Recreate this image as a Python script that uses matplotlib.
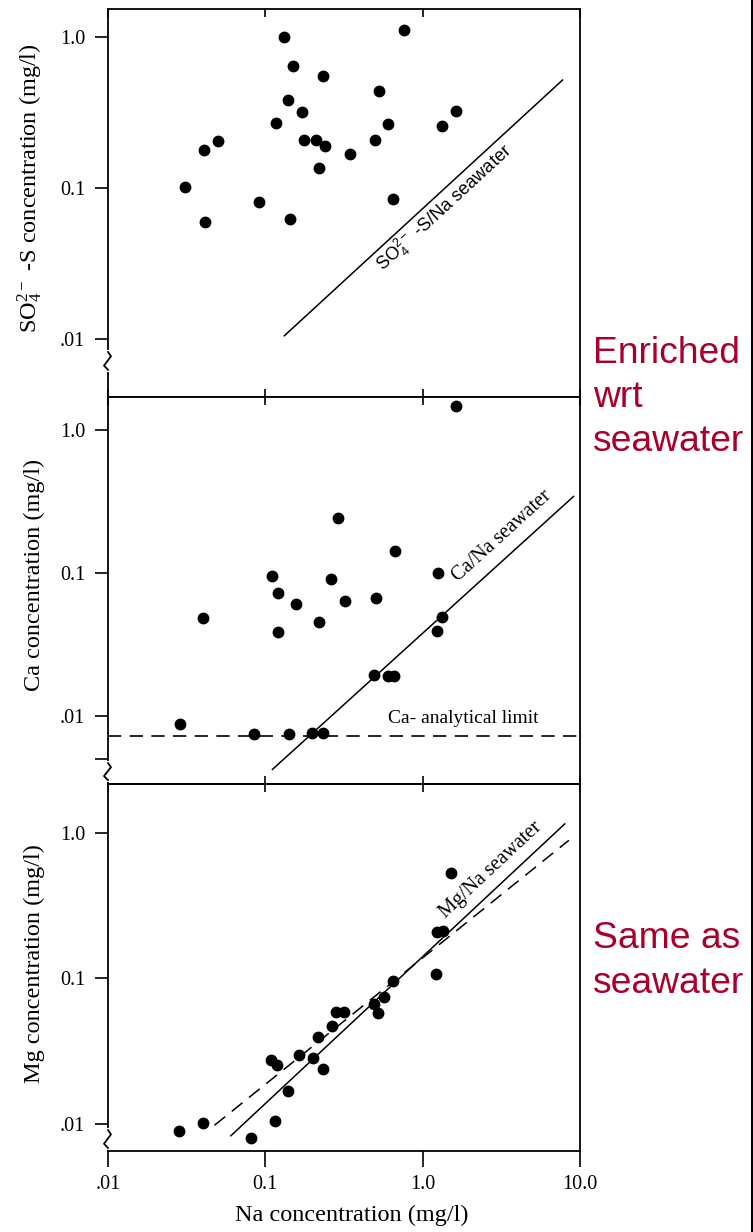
import numpy as np
import matplotlib.pyplot as plt
from matplotlib.lines import Line2D
from matplotlib.ticker import FixedLocator, FixedFormatter, NullLocator

plt.rcParams['font.family'] = ['Liberation Serif', 'DejaVu Serif']

# --- data (mg/l) ---
na_so4 = [0.0309, 0.0408, 0.0498, 0.0413, 0.0916, 0.132, 0.150, 0.139, 0.117, 0.172, 0.177, 0.209,
          0.241, 0.219, 0.143, 0.233, 0.344, 0.497, 0.764, 0.530, 0.598, 1.62, 1.32, 0.644]
so4 = [0.102, 0.179, 0.206, 0.0598, 0.0811, 1.0, 0.645, 0.384, 0.268, 0.317, 0.207, 0.207,
       0.189, 0.135, 0.0623, 0.549, 0.167, 0.208, 1.11, 0.441, 0.267, 0.324, 0.257, 0.085]

na_ca = [0.0286, 0.0402, 0.0848, 0.110, 0.121, 0.120, 0.157, 0.142, 0.290, 0.262, 0.220, 0.322,
         0.197, 0.233, 1.62, 0.667, 1.245, 0.505, 1.32, 1.23, 0.488, 0.598, 0.653]
ca = [0.00889, 0.0484, 0.00752, 0.0959, 0.0723, 0.0385, 0.0605, 0.00752, 0.242, 0.0906, 0.0455, 0.0636,
      0.00769, 0.0076, 1.47, 0.143, 0.100, 0.0673, 0.0497, 0.0393, 0.0194, 0.0192, 0.0192]

na_mg = [0.0284, 0.0402, 0.0815, 0.115, 0.109, 0.119, 0.139, 0.164, 0.200, 0.233, 0.215, 0.264,
         0.283, 0.317, 1.52, 1.23, 1.35, 1.22, 0.644, 0.570, 0.492, 0.519]
mg = [0.00891, 0.0102, 0.0080, 0.0104, 0.0277, 0.0253, 0.0168, 0.0299, 0.0283, 0.0237, 0.0395, 0.0469,
      0.0591, 0.0591, 0.533, 0.210, 0.212, 0.108, 0.0955, 0.0742, 0.0671, 0.0577]

# seawater ratio lines and fit (end points)
so4_sw_na = [0.132, 7.75]
so4_sw = [0.0105, 0.519]
ca_sw_na = [0.111, 9.1]
ca_sw = [0.00425, 0.343]
ca_limit = 0.00728
mg_sw_na = [0.0604, 8.0]
mg_sw = [0.0083, 1.155]
mg_fit_na = [0.0475, 8.5]
mg_fit = [0.0098, 0.891]

x_ticks = [0.01, 0.1, 1.0, 10.0]
x_labels = ['.01', '0.1', '1.0', '10.0']

W, H = 753, 1232
fig = plt.figure(figsize=(W / 100, H / 100), dpi=100)
fig.patch.set_facecolor('white')


def add_panel(top, bottom, left=108, right=580):
    return fig.add_axes([left / W, 1 - bottom / H, (right - left) / W, (bottom - top) / H])


ax1 = add_panel(9, 397)
ax2 = add_panel(397, 784)
ax3 = add_panel(784, 1151)

panels = [
    (ax1, (0.00413, 1.532), [1.0, 0.1, 0.01], ['1.0', '0.1', '.01'],
     'SO$\\mathregular{_4^{2-}}$ -S concentration (mg/l)', 0.539, (0.070, 0.116)),
    (ax2, (0.00336, 1.698), [1.0, 0.1, 0.01, 0.005], ['1.0', '0.1', '.01', ''],
     'Ca concentration (mg/l)', 0.541, (0.010, 0.054)),
    (ax3, (0.00652, 2.172), [1.0, 0.1, 0.01], ['1.0', '0.1', '.01'],
     'Mg concentration (mg/l)', 0.510, (0.008, 0.057)),
]

for ax, ylim, yt, ytl, ylab, ly, brk in panels:
    ax.set_xscale('log')
    ax.set_yscale('log')
    ax.set_xlim(0.01, 10)
    ax.set_ylim(*ylim)
    ax.xaxis.set_major_locator(FixedLocator(x_ticks))
    ax.xaxis.set_major_formatter(FixedFormatter(x_labels))
    ax.xaxis.set_minor_locator(NullLocator())
    ax.yaxis.set_major_locator(FixedLocator(yt))
    ax.yaxis.set_major_formatter(FixedFormatter(ytl))
    ax.yaxis.set_minor_locator(NullLocator())
    for sp in ax.spines.values():
        sp.set_linewidth(1.3)
    ax.tick_params(axis='y', direction='out', length=9.5, width=1.2, pad=7, labelsize=14.5)
    ax.tick_params(axis='x', direction='in', length=6, width=1.2, top=True, bottom=True,
                   labelbottom=False)
    ax.set_ylabel(ylab, fontsize=17.5)
    ax.yaxis.set_label_coords(-0.1335, ly)

    # axis break mark on the left spine
    y_lo, y_hi = brk
    span = y_hi - y_lo
    wpx = ax.get_position().width * W
    ax.add_line(Line2D([0, 0], [y_lo, y_hi], transform=ax.transAxes, color='white', lw=3,
                       clip_on=False, zorder=5))
    zx = np.array([0, 3, -4, 0]) / wpx
    zy = y_hi - np.array([0, 0.24, 0.76, 1.0]) * span
    ax.add_line(Line2D(zx, zy, transform=ax.transAxes, color='black', lw=1.3,
                       clip_on=False, zorder=6))

# bottom panel: outward ticks with labels at the bottom, inward ticks on top
ax3.tick_params(axis='x', direction='out', length=11.5, width=1.2, top=False, bottom=True,
                labelbottom=True, labelsize=14.5, pad=6)
sec = ax3.secondary_xaxis('top')
sec.set_xticks(x_ticks)
sec.xaxis.set_minor_locator(NullLocator())
sec.tick_params(axis='x', direction='in', length=6, width=1.2, labeltop=False)
sec.spines['top'].set_linewidth(1.3)
ax3.set_xlabel('Na concentration (mg/l)', fontsize=17.5)
ax3.xaxis.set_label_coords(0.516, -0.147)
ax3.xaxis.label.set_va('top')

dot = dict(ls='none', marker='o', ms=7.5, color='black', zorder=4)
line = dict(color='black', lw=1.1)


def along(ax, xs, ys):
    p = ax.transData.transform(np.column_stack([xs, ys]))
    return np.degrees(np.arctan2(p[1, 1] - p[0, 1], p[1, 0] - p[0, 0]))


# SO4
ax1.plot(na_so4, so4, **dot)
ax1.plot(so4_sw_na, so4_sw, **line)
ax1.text(1.37, 0.0737, 'SO$\\mathregular{_4^{2-}}$ -S/Na seawater', family=['Liberation Sans', 'DejaVu Sans'],
         fontsize=13, rotation=along(ax1, so4_sw_na, so4_sw), rotation_mode='anchor',
         ha='center', va='center')

# Ca
ax2.plot(na_ca, ca, **dot)
ax2.plot(ca_sw_na, ca_sw, **line)
ax2.axhline(ca_limit, color='black', lw=1.2, dashes=(8, 5))
ax2.text(3.19, 0.181, 'Ca/Na seawater', fontsize=14.5, rotation=along(ax2, ca_sw_na, ca_sw),
         rotation_mode='anchor', ha='center', va='center')
ax2.text(0.598, 0.0097, 'Ca- analytical limit', fontsize=14, ha='left', va='center')

# Mg
ax3.plot(na_mg, mg, **dot)
ax3.plot(mg_sw_na, mg_sw, **line)
ax3.plot(mg_fit_na, mg_fit, color='black', lw=1.1, dashes=(9, 5.5))
ax3.text(2.73, 0.560, 'Mg/Na seawater', fontsize=14.5, rotation=along(ax3, mg_sw_na, mg_sw),
         rotation_mode='anchor', ha='center', va='center')

# red side notes
red = '#A8002A'
for txt, base in [('Enriched', 363), ('wrt', 407), ('seawater', 451), ('Same as', 948), ('seawater', 993)]:
    fig.text(593 / W, 1 - base / H, txt, color=red, fontsize=26.8, va='baseline', ha='left',
             family=['Liberation Sans', 'DejaVu Sans'])

# dark frame edge on the right of the slide
fig.add_artist(Line2D([751.5 / W, 751.5 / W], [0, 1], transform=fig.transFigure, color='black', lw=2.2))

fig.savefig('out.png', dpi=100)
